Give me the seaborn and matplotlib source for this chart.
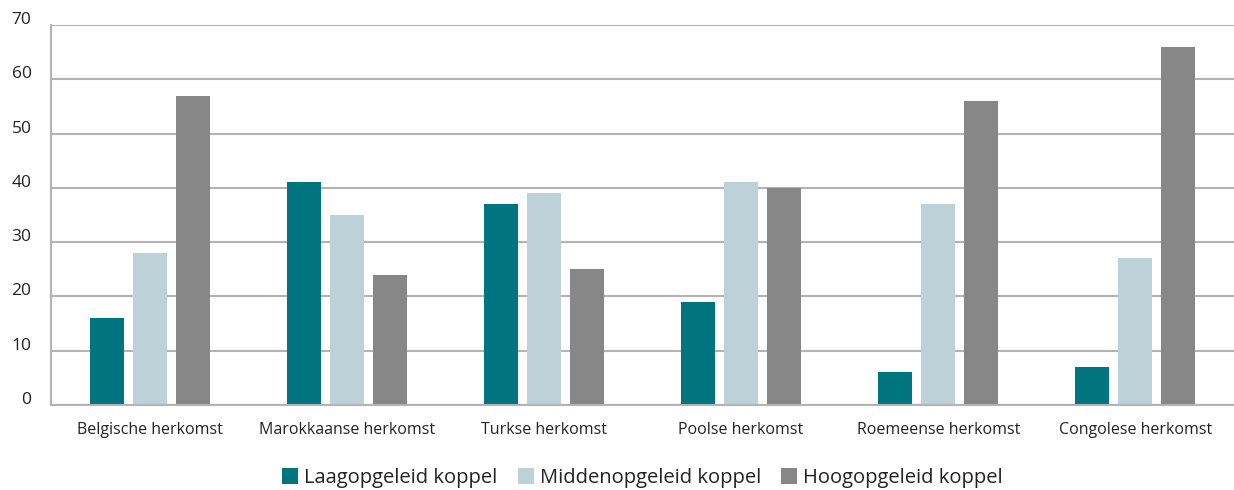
import numpy as np
import pandas as pd
import matplotlib
matplotlib.use("Agg")
import matplotlib.pyplot as plt
import matplotlib.transforms as mtransforms
import seaborn as sns

# data
categories = ["Belgische herkomst", "Marokkaanse herkomst", "Turkse herkomst",
              "Poolse herkomst", "Roemeense herkomst", "Congolese herkomst"]
series_names = ["Laagopgeleid koppel", "Middenopgeleid koppel", "Hoogopgeleid koppel"]
laag = [16, 41, 37, 19, 6, 7]
midden = [28, 35, 39, 41, 37, 27]
hoog = [57, 24, 25, 40, 56, 66]
yticks = [0, 10, 20, 30, 40, 50, 60, 70]

colors = ["#00757f", "#bdd2d8", "#878787"]
grid_col = "#b3b3b3"

df = pd.DataFrame({
    "herkomst": categories * 3,
    "groep": np.repeat(series_names, len(categories)),
    "waarde": laag + midden + hoog,
})

sns.set_style("white")
plt.rcParams["font.family"] = ["Open Sans", "DejaVu Sans"]

fig = plt.figure(figsize=(12.34, 4.9), dpi=100)
ax = fig.add_axes([51 / 1234, 1 - 405 / 490, 1 - 51 / 1234, 380 / 490])

sns.barplot(data=df, x="herkomst", y="waarde", hue="groep", order=categories,
            hue_order=series_names, palette=colors, width=0.655, gap=0.21,
            saturation=1, linewidth=0, ax=ax, legend=True)

ax.set_xlim(-0.5, len(categories) - 0.5)
ax.set_ylim(0, 70)
ax.set_yticks(yticks)
ax.set_yticklabels([str(t) for t in yticks], fontsize=12.5, color="#222222")
ax.yaxis.grid(True, color=grid_col, linewidth=1.5)
ax.set_axisbelow(True)
ax.tick_params(axis="y", length=0, pad=14)
shift = mtransforms.ScaledTranslation(0, 5 / 72, fig.dpi_scale_trans)
for lab in ax.get_yticklabels():
    lab.set_transform(lab.get_transform() + shift)

ax.tick_params(axis="x", length=0, pad=12, labelsize=11.5, labelcolor="#222222")
ax.set_xticks(np.arange(0.5, len(categories) - 0.5), minor=True)
ax.tick_params(axis="x", which="minor", direction="in", length=7,
               width=1.5, color=grid_col)

for side in ["top", "right"]:
    ax.spines[side].set_visible(False)
for side in ["left", "bottom"]:
    ax.spines[side].set_color(grid_col)
    ax.spines[side].set_linewidth(1.5)

ax.set_xlabel("")
ax.set_ylabel("")

leg = ax.legend(loc="lower center", bbox_to_anchor=(0.5, -0.24), ncol=3,
                frameon=False, fontsize=14.5, handlelength=0.8, handleheight=0.8,
                handletextpad=0.3, columnspacing=1.0, borderaxespad=0)
for t in leg.get_texts():
    t.set_color("#222222")

fig.savefig("out.png", dpi=100)
